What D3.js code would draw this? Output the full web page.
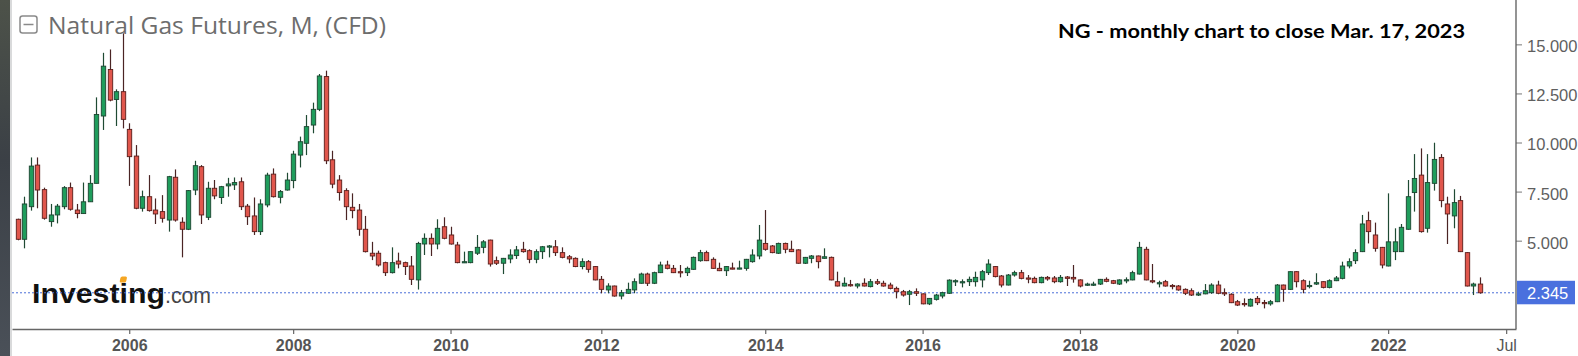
<!DOCTYPE html>
<html><head><meta charset="utf-8">
<script src="https://cdn.jsdelivr.net/npm/d3@7"></script>
<style>html,body{margin:0;padding:0;background:#fff;overflow:hidden}</style>
</head><body>
<svg id="c" width="1578" height="356"></svg>
<script>
// ---- DATA (monthly candles, Aug 2004 – Mar 2023) ----
const startMonth = "2004-08";
const opens = [
6.09,5.07,6.73,8.85,7.60,
5.97,6.31,6.73,7.70,6.56,6.38,6.98,7.92,11.35,13.72,12.19,12.59,
10.67,9.31,6.65,7.24,6.56,6.48,6.05,8.23,5.94,5.58,7.58,8.77,
6.19,7.67,7.20,7.79,7.84,8.00,6.76,6.26,5.46,6.82,8.39,7.21,
7.58,8.06,9.36,9.96,10.89,11.69,13.36,9.12,8.09,7.55,6.70,6.56,
5.58,4.36,4.36,3.88,3.37,3.96,3.88,3.71,3.00,4.83,5.12,4.83,
5.71,5.29,4.78,3.88,3.88,4.36,4.66,5.03,3.98,3.85,4.07,4.24,
4.56,4.49,4.05,4.44,4.69,4.69,4.39,4.18,4.10,3.68,3.93,3.68,
3.03,2.49,2.69,2.18,2.32,2.49,2.83,3.30,2.83,3.37,3.76,3.59,
3.42,3.37,3.54,3.98,4.39,4.05,3.59,3.47,3.61,3.56,3.59,3.93,
4.22,4.86,4.73,4.36,4.86,4.56,4.53,3.85,4.10,4.22,4.10,4.15,
2.91,2.69,2.76,2.69,2.83,2.66,2.91,2.83,2.74,2.57,2.40,2.27,
2.40,2.29,1.78,2.01,2.18,2.32,2.93,2.86,2.91,2.91,3.00,3.37,
3.68,3.20,2.74,3.25,3.37,3.10,3.08,2.86,3.13,3.10,2.91,3.15,
3.13,3.00,2.74,2.76,2.79,3.03,2.96,2.79,2.98,3.00,3.30,4.56,
2.96,2.83,2.91,2.72,2.69,2.52,2.45,2.23,2.29,2.35,2.74,2.35,
2.27,1.89,1.80,1.67,2.06,1.85,1.78,1.89,2.74,2.52,3.42,2.96,
2.66,2.79,2.91,2.62,2.96,3.08,3.71,3.98,4.44,6.02,5.29,4.66,
3.71,4.44,4.44,5.58,7.45,8.34,5.63,7.92,9.24,6.87,6.26,7.04,
4.39,2.69,2.79];
const highs = [
6.12,7.24,9.24,9.24,7.70,
6.87,6.87,7.78,7.96,6.87,7.96,8.34,12.30,14.57,14.74,12.71,15.56,
10.98,9.87,7.55,8.34,7.15,7.32,8.30,8.63,6.19,7.58,9.07,8.85,
8.00,8.09,7.79,8.20,8.22,8.22,6.87,7.20,7.11,8.46,8.68,7.58,
8.46,9.58,10.30,11.40,12.03,13.49,13.66,9.58,8.34,7.67,7.41,6.87,
6.26,4.94,4.49,3.93,4.66,4.39,3.93,4.22,4.94,5.37,5.37,6.09,
6.19,5.71,4.94,4.44,4.46,5.29,5.03,5.05,4.19,4.12,4.56,4.73,
4.94,4.56,4.56,4.73,4.78,5.03,4.66,4.27,4.15,4.10,4.01,3.71,
3.20,2.83,2.71,2.49,2.86,3.08,3.37,3.37,3.42,3.93,3.98,3.76,
3.76,3.68,4.19,4.53,4.49,4.15,3.88,3.71,3.88,3.98,4.07,4.56,
5.80,6.56,4.78,4.90,4.90,5.00,4.56,4.17,4.27,4.24,4.61,4.19,
3.42,3.13,3.00,2.83,3.08,3.05,3.05,2.96,2.86,2.66,2.49,2.49,
2.57,2.31,2.08,2.29,2.40,3.03,3.03,3.03,3.17,3.42,3.51,4.05,
3.70,3.25,3.30,3.47,3.51,3.25,3.17,3.17,3.20,3.20,3.25,3.20,
3.76,3.03,2.86,2.91,3.05,3.13,3.00,3.03,3.13,3.47,4.94,4.69,
3.81,2.96,3.00,2.79,2.74,2.57,2.57,2.40,2.79,2.83,2.96,2.57,
2.32,1.98,2.06,2.06,2.18,1.98,1.98,2.79,2.76,3.44,3.44,3.03,
2.96,3.34,2.93,3.03,3.20,3.93,4.10,4.56,6.31,6.48,5.92,4.68,
7.41,5.63,5.85,8.09,9.41,9.70,9.41,9.99,9.41,7.24,7.62,7.28,
4.41,2.86,3.13];
const lows = [
5.02,4.61,6.53,6.65,6.07,
5.71,5.88,6.60,6.53,6.14,6.38,6.98,7.92,10.64,12.10,10.84,10.72,
7.79,6.60,6.48,6.48,5.85,5.92,5.46,5.97,4.15,5.54,7.32,5.85,
6.05,7.11,6.87,7.24,7.58,6.56,5.80,5.29,5.29,6.70,7.20,6.90,
7.55,7.67,8.73,9.36,10.47,11.60,8.90,7.67,7.04,6.05,6.14,5.25,
4.40,4.01,3.68,3.20,3.33,3.59,3.25,2.74,2.51,4.27,4.22,4.56,
5.07,4.80,3.85,3.86,3.85,4.27,4.36,3.68,3.76,3.30,3.85,4.07,
4.39,3.85,3.85,4.07,4.15,4.22,4.10,3.85,3.65,3.54,3.37,2.98,
2.32,2.32,2.15,2.01,2.29,2.32,2.81,2.69,2.79,3.35,3.54,3.35,
3.13,3.20,3.52,3.93,3.96,3.57,3.45,3.20,3.54,3.54,3.47,3.88,
4.05,4.49,4.36,4.32,4.36,4.42,3.83,3.81,3.85,3.59,4.08,2.98,
2.67,2.67,2.66,2.57,2.67,2.62,2.74,2.66,2.52,2.06,2.15,1.72,
2.18,1.76,1.72,1.95,2.06,2.29,2.69,2.62,2.69,2.66,2.62,3.25,
3.13,2.62,2.72,3.17,3.03,2.83,2.83,2.83,2.96,2.83,2.86,2.69,
2.86,2.62,2.69,2.69,2.74,2.88,2.79,2.74,2.83,2.98,3.28,2.98,
2.83,2.62,2.66,2.52,2.45,2.23,2.18,2.18,2.27,2.29,2.27,2.18,
1.82,1.67,1.64,1.64,1.72,1.55,1.69,1.87,1.89,2.49,2.62,2.32,
2.57,2.74,2.57,2.57,2.94,3.03,3.59,3.81,4.42,4.86,4.44,3.59,
3.69,4.01,4.42,5.56,6.48,5.41,5.41,7.55,6.70,4.83,5.63,4.42,
2.67,2.23,2.30];
const closes = [
5.07,6.87,8.80,7.58,6.14,
6.31,6.76,7.70,6.60,6.38,6.98,7.92,11.43,13.89,12.16,12.59,11.18,
9.28,6.65,7.24,6.53,6.36,6.14,8.26,6.05,5.58,7.55,8.82,6.31,
7.67,7.28,7.75,7.89,7.96,6.73,6.22,5.46,6.87,8.34,7.24,7.50,
8.09,9.41,10.04,10.81,11.69,13.39,9.07,7.88,7.45,6.73,6.53,5.58,
4.44,4.22,3.76,3.37,3.88,3.81,3.68,3.03,4.86,5.12,4.83,5.63,
5.12,4.83,3.88,3.93,4.44,4.66,4.94,3.81,3.85,4.10,4.27,4.53,
4.44,4.05,4.44,4.69,4.73,4.39,4.15,4.07,3.68,3.93,3.54,3.00,
2.52,2.69,2.18,2.35,2.52,2.91,3.30,2.83,3.37,3.76,3.59,3.37,
3.39,3.59,4.15,4.39,3.98,3.59,3.47,3.68,3.56,3.61,4.05,4.27,
5.03,4.56,4.39,4.86,4.56,4.44,3.85,4.15,4.22,3.93,4.18,3.00,
2.69,2.83,2.72,2.79,2.69,2.91,2.83,2.69,2.57,2.40,2.23,2.40,
2.32,1.78,2.06,2.23,2.35,2.99,2.96,2.91,3.03,3.13,3.42,3.81,
3.17,2.74,3.25,3.37,3.08,3.05,2.86,3.13,3.05,2.91,3.13,3.08,
3.05,2.69,2.79,2.79,3.03,2.93,2.83,3.00,3.01,3.37,4.66,3.00,
2.91,2.86,2.69,2.66,2.49,2.32,2.23,2.29,2.45,2.74,2.32,2.29,
1.84,1.72,1.76,2.01,1.84,1.81,1.89,2.74,2.52,3.42,2.91,2.52,
2.72,2.86,2.62,2.96,3.10,3.71,3.93,4.39,5.85,5.46,4.61,3.76,
4.94,4.94,5.68,7.24,8.17,5.46,7.96,9.14,7.04,6.36,6.94,4.44,
2.69,2.79,2.345];
const priceTicks = [5, 7.5, 10, 12.5, 15];
const timeTickMonths = ["2006-01","2008-02","2010-02","2012-01","2014-02","2016-02","2018-02","2020-02","2022-01","2023-07"];
const timeTickLabels = ["2006","2008","2010","2012","2014","2016","2018","2020","2022","Jul"];
const lastPrice = 2.345;
const chartTitle = "Natural Gas Futures, M, (CFD)";
const noteText = "NG - monthly chart to close Mar. 17, 2023";

// ---- helpers ----
const monthIdx = s => { const [y,m] = s.split("-").map(Number); return (y-2006)*12 + (m-1); };
const start = monthIdx(startMonth);
const candles = opens.map((o,k)=>({i:start+k,o,h:highs[k],l:lows[k],c:closes[k]}));

const svg = d3.select("#c");
const L = 12, R = 1516, T = 0, B = 329;
const x = d3.scaleLinear().domain([-17.88, 211.5]).range([L, R]);
const y = d3.scaleLinear().domain([0.5, 17.26]).range([B, T]);

// left dark strip (screen capture edge)
const defs = svg.append("defs");
const g1 = defs.append("linearGradient").attr("id","edge").attr("x1",0).attr("y1",0).attr("x2",0).attr("y2",1);
g1.append("stop").attr("offset","0%").attr("stop-color","#4d5249");
g1.append("stop").attr("offset","45%").attr("stop-color","#3b4046");
g1.append("stop").attr("offset","100%").attr("stop-color","#4a5058");
svg.append("rect").attr("x",0).attr("y",0).attr("width",10).attr("height",356).attr("fill","url(#edge)");
svg.append("rect").attr("x",10).attr("y",0).attr("width",2).attr("height",356).attr("fill","#d9dadb");
defs.append("clipPath").attr("id","plot").append("rect").attr("x",L).attr("y",T).attr("width",R-L).attr("height",B-T);

// header
const hdr = svg.append("g");
hdr.append("rect").attr("x",20).attr("y",16).attr("width",17).attr("height",17).attr("rx",2.5)
  .attr("fill","none").attr("stroke","#8a8a8a").attr("stroke-width",1.5);
hdr.append("line").attr("x1",23.5).attr("x2",33.5).attr("y1",24.5).attr("y2",24.5).attr("stroke","#8a8a8a").attr("stroke-width",1.5);
hdr.append("text").attr("x",48).attr("y",34).attr("font-family","'Open Sans', sans-serif").attr("font-size",24)
  .attr("fill","#6d6d6d").attr("textLength",338).attr("lengthAdjust","spacingAndGlyphs").text(chartTitle);

// note
svg.append("text").attr("x",1058).attr("y",38).attr("font-family","Lato, 'Open Sans', sans-serif").attr("font-weight",700)
  .attr("font-size",19).attr("fill","#000").attr("textLength",407).attr("lengthAdjust","spacingAndGlyphs").text(noteText);

// logo
const logo = svg.append("g");
logo.append("text").attr("x",32).attr("y",303).attr("font-family","'Liberation Sans', Arial, sans-serif").attr("font-weight",700)
  .attr("font-size",27).attr("fill","#111").attr("textLength",133).attr("lengthAdjust","spacingAndGlyphs").text("Investing");
logo.append("text").attr("x",165).attr("y",303).attr("font-family","'Liberation Sans', Arial, sans-serif")
  .attr("font-size",22).attr("fill","#444").attr("textLength",46).attr("lengthAdjust","spacingAndGlyphs").text(".com");

// last price dotted line
svg.append("line").attr("x1",L).attr("x2",R).attr("y1",y(lastPrice)).attr("y2",y(lastPrice))
  .attr("stroke","#4a6fd8").attr("stroke-width",1).attr("stroke-dasharray","2,2");

// orange dot of logo i (drawn over line)
logo.append("rect").attr("x",120.5).attr("y",276.5).attr("width",6.5).attr("height",6).attr("rx",1.5)
  .attr("fill","#f5a623").attr("transform","skewX(-12) translate(59,0)");

// candles
const cg = svg.append("g").attr("clip-path","url(#plot)");
const bw = 4.4;
const up = d => d.c >= d.o;
cg.selectAll("line.w").data(candles).join("line").attr("class","w")
  .attr("x1",d=>Math.round(x(d.i))+0.5).attr("x2",d=>Math.round(x(d.i))+0.5)
  .attr("y1",d=>y(d.h)).attr("y2",d=>y(d.l))
  .attr("stroke",d=>up(d)?"#1f4a33":"#4a2424").attr("stroke-width",1.2);
cg.selectAll("rect.b").data(candles).join("rect").attr("class","b")
  .attr("x",d=>Math.round(x(d.i))+0.5-bw/2).attr("width",bw)
  .attr("y",d=>y(Math.max(d.o,d.c)))
  .attr("height",d=>Math.max(1.2, Math.abs(y(d.o)-y(d.c))))
  .attr("fill",d=>up(d)?"#1f9d5c":"#e0564c")
  .attr("stroke",d=>up(d)?"#1c4430":"#5a1d1a").attr("stroke-width",0.9);

// right axis
const ya = svg.append("g").attr("transform",`translate(${R},0)`)
  .call(d3.axisRight(y).tickValues(priceTicks).tickFormat(d3.format(".3f")).tickSize(6).tickPadding(5));
ya.select(".domain").remove();
ya.selectAll(".tick line").attr("stroke","#777");
ya.selectAll(".tick text").attr("font-family","'Liberation Sans', Arial, sans-serif").attr("font-size",16.5)
  .attr("fill","#5f5f5f").attr("dy","0.45em");
svg.append("line").attr("x1",R).attr("x2",R).attr("y1",0).attr("y2",B).attr("stroke","#5a5a5a").attr("stroke-width",1.3);

// last price label
svg.append("rect").attr("x",R+1).attr("y",y(lastPrice)-12).attr("width",58).attr("height",23.5).attr("fill","#4a70de");
svg.append("text").attr("x",R+11).attr("y",y(lastPrice)+6).attr("font-family","'Liberation Sans', Arial, sans-serif")
  .attr("font-size",16.5).attr("fill","#fff").text(d3.format(".3f")(lastPrice));

// bottom axis
const xa = svg.append("g").attr("transform",`translate(0,${B})`)
  .call(d3.axisBottom(x).tickValues(timeTickMonths.map(monthIdx))
    .tickFormat((d,k)=>timeTickLabels[k]).tickSize(5).tickPadding(6).tickSizeOuter(0));
xa.select(".domain").attr("stroke","#666").attr("stroke-width",1.6);
xa.selectAll(".tick line").attr("stroke","#666").attr("stroke-width",1.2);
xa.selectAll(".tick text").attr("font-family","'Liberation Sans', Arial, sans-serif").attr("font-size",16)
  .attr("fill","#555").attr("font-weight",d=>d===monthIdx("2023-07")?400:700);
</script>
</body></html>
